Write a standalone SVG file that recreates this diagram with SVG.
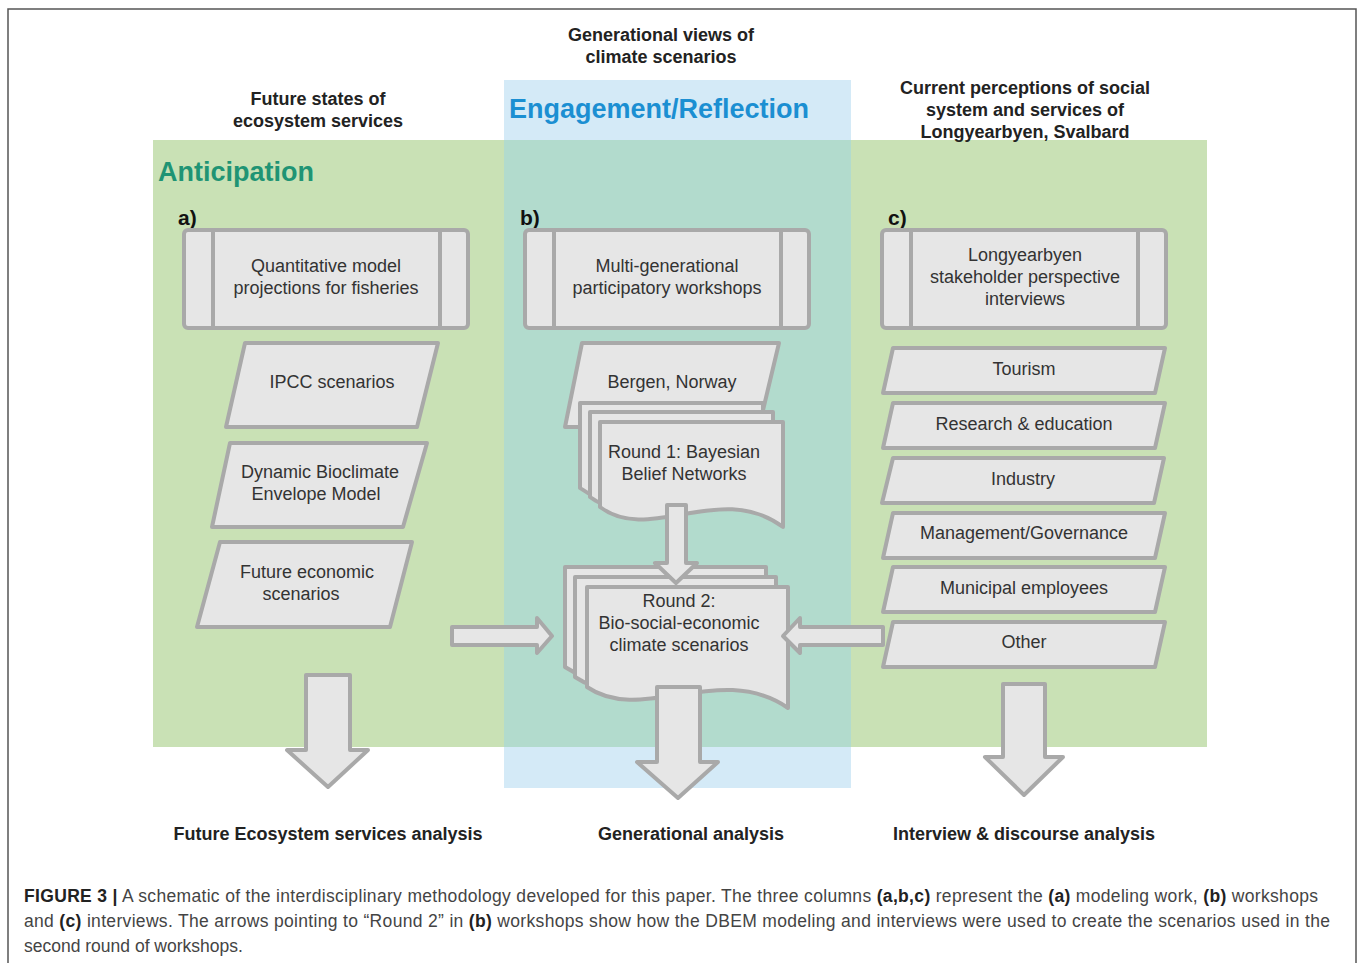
<svg xmlns="http://www.w3.org/2000/svg" width="1358" height="963" viewBox="0 0 1358 963">
<style>
text{font-family:"Liberation Sans",Arial,sans-serif}
.node{fill:#e6e6e6;stroke:#a9a9a9;stroke-width:4;stroke-linejoin:round}
.ln{stroke:#a9a9a9;stroke-width:4}
.t{font-size:18px;fill:#333;text-anchor:middle}
.h{font-size:18px;font-weight:bold;fill:#222;text-anchor:middle}
.lab{font-size:21px;font-weight:bold;fill:#111}
.cap{font-size:17.5px;fill:#444}
.b{font-weight:bold;fill:#222}
</style>
<rect x="8" y="9" width="1348" height="1000" fill="#fff" stroke="#555" stroke-width="1.5"/>
<g id="backgrounds">
<rect x="153" y="140" width="1054" height="607" fill="#c9e1b5"/>
<rect x="504" y="80" width="347" height="708" fill="#d4eaf7"/>
<rect x="504" y="140" width="347" height="607" fill="#b2dbcd"/>
</g>
<g id="titles">
<text class="h" x="661" y="41">Generational views of</text>
<text class="h" x="661" y="63">climate scenarios</text>
<text x="509" y="118" font-size="27" font-weight="bold" fill="#1b8fd2">Engagement/Reflection</text>
<text class="h" x="318" y="105">Future states of</text>
<text class="h" x="318" y="127">ecosystem services</text>
<text class="h" x="1025" y="94">Current perceptions of social</text>
<text class="h" x="1025" y="116">system and services of</text>
<text class="h" x="1025" y="138">Longyearbyen, Svalbard</text>
<text x="158" y="181" font-size="27" font-weight="bold" fill="#1f9474">Anticipation</text>
<text class="lab" x="178" y="225">a)</text>
<text class="lab" x="520" y="225">b)</text>
<text class="lab" x="888" y="225">c)</text>
</g>
<g id="node-a-process">
<rect class="node" x="184" y="230" width="284" height="98" rx="4"/>
<line class="ln" x1="213" y1="230" x2="213" y2="328"/>
<line class="ln" x1="440" y1="230" x2="440" y2="328"/>
<text class="t" x="326" y="272">Quantitative model</text>
<text class="t" x="326" y="294">projections for fisheries</text>
</g>
<g id="node-ipcc">
<path class="node" d="M245,343 L438,343 L417,427 L226,427 Z"/>
<text class="t" x="332" y="388">IPCC scenarios</text>
</g>
<g id="node-dbem">
<path class="node" d="M230,443 L427,443 L403,527 L212,527 Z"/>
<text class="t" x="320" y="478">Dynamic Bioclimate</text>
<text class="t" x="316" y="500">Envelope Model</text>
</g>
<g id="node-economic">
<path class="node" d="M220,542 L412,542 L390,627 L197,627 Z"/>
<text class="t" x="307" y="578">Future economic</text>
<text class="t" x="301" y="600">scenarios</text>
</g>
<g id="node-b-process">
<rect class="node" x="525" y="230" width="284" height="98" rx="4"/>
<line class="ln" x1="554" y1="230" x2="554" y2="328"/>
<line class="ln" x1="781" y1="230" x2="781" y2="328"/>
<text class="t" x="667" y="272">Multi-generational</text>
<text class="t" x="667" y="294">participatory workshops</text>
</g>
<g id="node-bergen">
<path class="node" d="M582,343 L779,343 L759,427 L565,427 Z"/>
<text class="t" x="672" y="388">Bergen, Norway</text>
</g>
<g id="node-round1">
<path class="node" transform="translate(-20,-19)" d="M600,422 H783 V527 C720,480 650,545 600,507 Z"/>
<path class="node" transform="translate(-10,-10)" d="M600,422 H783 V527 C720,480 650,545 600,507 Z"/>
<path class="node" d="M600,422 H783 V527 C720,480 650,545 600,507 Z"/>
<text class="t" x="684" y="458">Round 1: Bayesian</text>
<text class="t" x="684" y="480">Belief Networks</text>
</g>
<g id="node-round2">
<path class="node" transform="translate(-22,-20)" d="M587,587 H788 V708 C720,661 642,725 587,687 Z"/>
<path class="node" transform="translate(-12,-10)" d="M587,587 H788 V708 C720,661 642,725 587,687 Z"/>
<path class="node" d="M587,587 H788 V708 C720,661 642,725 587,687 Z"/>
<text class="t" x="679" y="607">Round 2:</text>
<text class="t" x="679" y="629">Bio-social-economic</text>
<text class="t" x="679" y="651">climate scenarios</text>
</g>
<g id="node-c-process">
<rect class="node" x="882" y="230" width="284" height="98" rx="4"/>
<line class="ln" x1="911" y1="230" x2="911" y2="328"/>
<line class="ln" x1="1138" y1="230" x2="1138" y2="328"/>
<text class="t" x="1025" y="261">Longyearbyen</text>
<text class="t" x="1025" y="283">stakeholder perspective</text>
<text class="t" x="1025" y="305">interviews</text>
</g>
<g id="node-tourism">
<path class="node" d="M893,348 L1165,348 L1155,393 L883,393 Z"/>
<text class="t" x="1024" y="375">Tourism</text>
</g>
<g id="node-research">
<path class="node" d="M893,403 L1165,403 L1155,448 L883,448 Z"/>
<text class="t" x="1024" y="430">Research &amp; education</text>
</g>
<g id="node-industry">
<path class="node" d="M893,458 L1164,458 L1154,503 L882,503 Z"/>
<text class="t" x="1023" y="485">Industry</text>
</g>
<g id="node-management">
<path class="node" d="M893,513 L1165,513 L1155,558 L883,558 Z"/>
<text class="t" x="1024" y="539">Management/Governance</text>
</g>
<g id="node-municipal">
<path class="node" d="M893,567 L1165,567 L1155,612 L883,612 Z"/>
<text class="t" x="1024" y="594">Municipal employees</text>
</g>
<g id="node-other">
<path class="node" d="M893,622 L1165,622 L1155,667 L883,667 Z"/>
<text class="t" x="1024" y="648">Other</text>
</g>
<g id="connectors">
<path class="node" d="M667,505 H686 V563 H697 L676,583 L655,563 H667 Z"/>
<path class="node" d="M452,627 H537 V618 L552,636 L537,653 V645 H452 Z"/>
<path class="node" d="M883,627 H800 V618 L783,636 L800,653 V645 H883 Z"/>
<path class="node" d="M306,675 H350 V750 H368 L328,787 L287,750 H306 Z"/>
<path class="node" d="M657,687 H700 V762 H718 L678,798 L637,762 H657 Z"/>
<path class="node" d="M1003,684 H1045 V757 H1063 L1024,795 L985,757 H1003 Z"/>
</g>
<g id="bottom-labels">
<text class="h" x="328" y="840">Future Ecosystem services analysis</text>
<text class="h" x="691" y="840">Generational analysis</text>
<text class="h" x="1024" y="840">Interview &amp; discourse analysis</text>
</g>
<g id="caption">
<text class="cap" x="24" y="902" textLength="1294" lengthAdjust="spacing"><tspan class="b">FIGURE 3 |</tspan> A schematic of the interdisciplinary methodology developed for this paper. The three columns <tspan class="b">(a,b,c)</tspan> represent the <tspan class="b">(a)</tspan> modeling work, <tspan class="b">(b)</tspan> workshops</text>
<text class="cap" x="24" y="927" textLength="1306" lengthAdjust="spacing">and <tspan class="b">(c)</tspan> interviews. The arrows pointing to “Round 2” in <tspan class="b">(b)</tspan> workshops show how the DBEM modeling and interviews were used to create the scenarios used in the</text>
<text class="cap" x="24" y="952">second round of workshops.</text>
</g>
</svg>
